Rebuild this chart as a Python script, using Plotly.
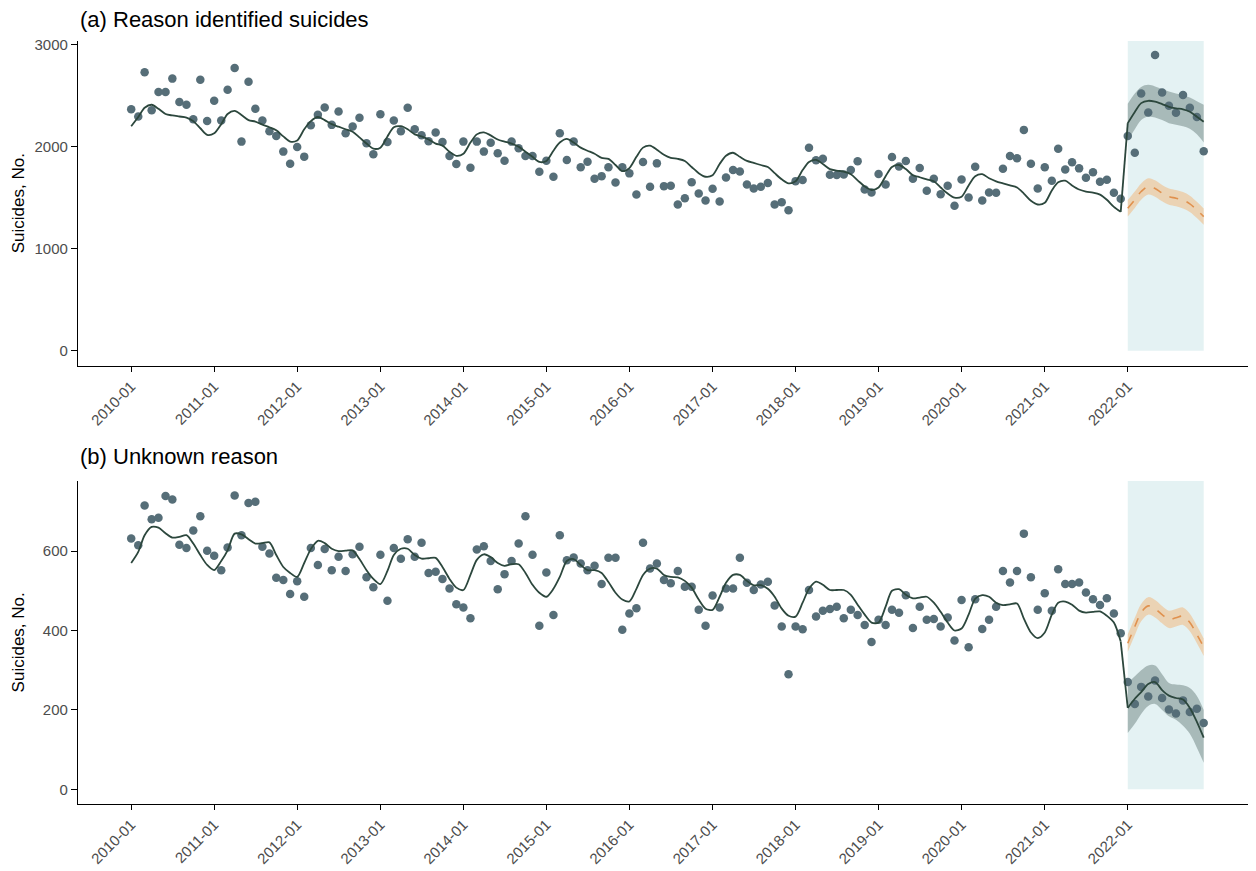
import pandas as pd
import plotly.graph_objects as go

# ---------------- data ----------------
months = [d.strftime("%Y-%m-%d") for d in pd.date_range("2010-01-01", "2022-12-01", freq="MS")]
post_months = months[-12:]

tick_vals = [f"{y}-01-01" for y in range(2010, 2023)]
tick_text = [f"{y}-01" for y in range(2010, 2023)]

# Panel (a) Reason identified suicides: observed monthly counts
a_obs = [2367, 2295, 2728, 2357, 2534, 2534, 2666, 2436, 2410, 2269, 2656, 2252,
         2449, 2256, 2557, 2770, 2049, 2636, 2370, 2256, 2151, 2105, 1951, 1833,
         1997, 1902, 2210, 2311, 2384, 2213, 2344, 2131, 2197, 2282, 2033, 1925,
         2318, 2046, 2256, 2151, 2380, 2170, 2111, 2052, 2138, 2046, 1908, 1830,
         2049, 1793, 2049, 1951, 2039, 1934, 1862, 2049, 1984, 1908, 1908, 1754,
         1862, 1705, 2131, 1869, 2049, 1797, 1852, 1685, 1711, 1797, 1649, 1797,
         1738, 1531, 1849, 1607, 1836, 1613, 1616, 1433, 1495, 1652, 1541, 1472,
         1587, 1462, 1698, 1770, 1757, 1630, 1590, 1607, 1643, 1433, 1456, 1377,
         1662, 1672, 1990, 1866, 1882, 1725, 1721, 1728, 1770, 1856, 1580, 1551,
         1731, 1630, 1898, 1806, 1859, 1685, 1790, 1567, 1685, 1534, 1616, 1420,
         1679, 1502, 1803, 1472, 1551, 1548, 1784, 1908, 1885, 2164, 1833, 1590,
         1797, 1666, 1980, 1777, 1846, 1787, 1695, 1748, 1656, 1675, 1548, 1489,
         2105, 1940, 2521, 2334, 2898, 2531, 2400, 2331, 2505, 2380, 2289, 1954]

# Panel (a) fitted model
a_fit = [2200, 2290, 2380, 2410, 2370, 2320, 2305, 2295, 2285, 2250, 2180, 2115,
         2130, 2220, 2320, 2350, 2310, 2260, 2245, 2215, 2190, 2160, 2100, 2050,
         2060, 2170, 2250, 2290, 2260, 2220, 2195, 2170, 2145, 2090, 2030, 1980,
         1990, 2100, 2190, 2200, 2170, 2120, 2100, 2070, 2030, 2010, 1950, 1910,
         1930, 2040, 2120, 2140, 2110, 2070, 2050, 2030, 2000, 1950, 1900, 1850,
         1860, 1960, 2040, 2075, 2040, 1990, 1960, 1930, 1890, 1880, 1820, 1760,
         1790, 1900, 1990, 2010, 1970, 1920, 1890, 1880, 1860, 1800, 1740, 1705,
         1720, 1830, 1910, 1940, 1900, 1860, 1840, 1820, 1800, 1740, 1680, 1640,
         1660, 1770, 1850, 1870, 1830, 1780, 1765, 1755, 1730, 1670, 1610, 1575,
         1600, 1710, 1800, 1820, 1780, 1720, 1700, 1680, 1660, 1600, 1540, 1500,
         1510, 1620, 1710, 1730, 1690, 1660, 1640, 1620, 1600, 1540, 1470, 1433,
         1450, 1570, 1650, 1666, 1620, 1580, 1560, 1550, 1530, 1480, 1410, 1361,
         2230, 2340, 2426, 2449, 2440, 2417, 2390, 2375, 2365, 2342, 2293, 2244]
a_fit_hi = [2420, 2520, 2585, 2605, 2590, 2565, 2540, 2520, 2505, 2480, 2445, 2410]
a_fit_lo = [2060, 2170, 2260, 2295, 2285, 2260, 2230, 2215, 2200, 2175, 2120, 2040]

# Panel (a) counterfactual (2022)
a_cf = [1396, 1480, 1560, 1610, 1590, 1545, 1510, 1495, 1475, 1440, 1380, 1314]
a_cf_hi = [1476, 1560, 1640, 1690, 1670, 1625, 1590, 1575, 1555, 1520, 1460, 1394]
a_cf_lo = [1316, 1400, 1480, 1530, 1510, 1465, 1430, 1415, 1395, 1360, 1300, 1234]

# Panel (b) Unknown reason: observed monthly counts
b_obs = [632, 615, 715, 680, 684, 739, 730, 616, 608, 652, 688, 601,
         588, 552, 609, 740, 640, 721, 724, 611, 594, 533, 527, 492,
         524, 485, 608, 565, 605, 552, 586, 550, 592, 611, 534, 509,
         591, 475, 608, 581, 630, 586, 621, 545, 548, 530, 506, 466,
         458, 431, 604, 612, 575, 504, 542, 575, 619, 688, 591, 412,
         546, 439, 640, 577, 584, 569, 552, 563, 517, 583, 583, 402,
         443, 456, 621, 556, 569, 527, 519, 550, 510, 510, 452, 412,
         488, 458, 506, 506, 583, 520, 502, 516, 523, 463, 410, 290,
         410, 403, 502, 435, 450, 454, 460, 431, 452, 439, 414, 371,
         427, 414, 452, 445, 489, 406, 460, 427, 429, 410, 433, 375,
         477, 358, 479, 404, 427, 460, 550, 521, 550, 644, 534, 452,
         494, 450, 554, 517, 517, 521, 496, 479, 464, 481, 443, 393,
         270, 215, 258, 234, 274, 230, 201, 191, 224, 195, 203, 167]

# Panel (b) fitted model
b_fit = [570, 598, 640, 661, 659, 645, 634, 636, 640, 619, 590, 565,
         552, 575, 602, 644, 642, 630, 619, 620, 622, 590, 560, 545,
         535, 570, 605, 626, 620, 606, 600, 601, 602, 580, 552, 530,
         517, 550, 590, 606, 606, 590, 581, 582, 583, 560, 530, 508,
         502, 540, 578, 592, 585, 570, 563, 567, 567, 545, 515, 495,
         485, 505, 535, 575, 580, 565, 552, 552, 545, 522, 495, 478,
         473, 505, 540, 556, 556, 540, 535, 534, 525, 508, 478, 455,
         452, 485, 520, 540, 540, 525, 514, 514, 505, 485, 455, 437,
         435, 470, 505, 523, 515, 502, 502, 502, 490, 465, 440, 420,
         420, 460, 500, 504, 490, 481, 483, 485, 470, 447, 420, 400,
         405, 440, 480, 489, 485, 470, 464, 466, 468, 430, 395, 381,
         395, 440, 470, 473, 465, 450, 445, 447, 448, 437, 420, 372,
         205, 228, 245, 265, 270, 250, 236, 230, 226, 205, 170, 130]
b_fit_hi = [268, 285, 300, 312, 312, 290, 268, 264, 262, 255, 235, 200]
b_fit_lo = [142, 165, 190, 210, 215, 200, 184, 175, 160, 140, 105, 67]

# Panel (b) counterfactual (2022)
b_cf = [368, 410, 445, 462, 455, 440, 428, 432, 436, 420, 390, 358]
b_cf_hi = [390, 432, 467, 484, 477, 462, 450, 454, 458, 442, 412, 380]
b_cf_lo = [346, 388, 423, 440, 433, 418, 406, 410, 414, 398, 368, 336]

# ---------------- styling ----------------
PT_COLOR = "#566e78"
FIT_COLOR = "#2c473d"
FIT_BAND = "rgba(70,95,92,0.38)"
CF_COLOR = "#e0914e"
CF_BAND = "rgba(245,172,105,0.45)"
SHADE = "#e4f2f3"
FONT = "Liberation Sans, Arial, sans-serif"

# page is offset by the 8px body margin
OFF = 8
W, H = 1248, 863
L = 78 - OFF
T = 41 - OFF
B = H - (804.3 - OFF)
R = 0
plot_h = H - T - B
a_dom = [(H - B - (365.7 - OFF)) / plot_h, 1.0]
b_dom = [0.0, (H - B - (481 - OFF)) / plot_h]

a_range = [-144.5, 3034.5]
b_range = [-37, 777]
x_range = ["2009-05-12", "2023-07-19"]

N_PRE = len(months) - len(post_months)

fig = go.Figure()


def add_panel(xa, ya, obs, fit, fit_hi, fit_lo, cf, cf_hi, cf_lo):
    fig.add_trace(go.Scatter(x=post_months, y=fit_hi, mode="lines", line=dict(width=0),
                             line_shape="spline", hoverinfo="skip", showlegend=False,
                             xaxis=xa, yaxis=ya))
    fig.add_trace(go.Scatter(x=post_months, y=fit_lo, mode="lines", line=dict(width=0),
                             line_shape="spline", fill="tonexty", fillcolor=FIT_BAND,
                             hoverinfo="skip", showlegend=False, xaxis=xa, yaxis=ya))
    fig.add_trace(go.Scatter(x=post_months, y=cf_hi, mode="lines", line=dict(width=0),
                             line_shape="spline", hoverinfo="skip", showlegend=False,
                             xaxis=xa, yaxis=ya))
    fig.add_trace(go.Scatter(x=post_months, y=cf_lo, mode="lines", line=dict(width=0),
                             line_shape="spline", fill="tonexty", fillcolor=CF_BAND,
                             hoverinfo="skip", showlegend=False, xaxis=xa, yaxis=ya))
    fig.add_trace(go.Scatter(x=months, y=obs, mode="markers",
                             marker=dict(size=8.5, color=PT_COLOR),
                             showlegend=False, xaxis=xa, yaxis=ya))
    # fitted line: smooth within each period, straight step at the interruption
    fig.add_trace(go.Scatter(x=months[:N_PRE], y=fit[:N_PRE], mode="lines",
                             line=dict(color=FIT_COLOR, width=1.8, shape="spline", smoothing=0.8),
                             showlegend=False, xaxis=xa, yaxis=ya))
    fig.add_trace(go.Scatter(x=months[N_PRE - 1:N_PRE + 1], y=fit[N_PRE - 1:N_PRE + 1],
                             mode="lines", line=dict(color=FIT_COLOR, width=1.8),
                             showlegend=False, xaxis=xa, yaxis=ya))
    fig.add_trace(go.Scatter(x=months[N_PRE:], y=fit[N_PRE:], mode="lines",
                             line=dict(color=FIT_COLOR, width=1.8, shape="spline", smoothing=0.8),
                             showlegend=False, xaxis=xa, yaxis=ya))
    fig.add_trace(go.Scatter(x=post_months, y=cf, mode="lines",
                             line=dict(color=CF_COLOR, width=1.6, dash="dash", shape="spline"),
                             showlegend=False, xaxis=xa, yaxis=ya))


add_panel("x", "y", a_obs, a_fit, a_fit_hi, a_fit_lo, a_cf, a_cf_hi, a_cf_lo)
add_panel("x2", "y2", b_obs, b_fit, b_fit_hi, b_fit_lo, b_cf, b_cf_hi, b_cf_lo)

fig.add_shape(type="rect", xref="x", yref="y", x0=post_months[0], x1=post_months[-1],
              y0=0, y1=a_range[1], fillcolor=SHADE, line=dict(width=0), layer="below")
fig.add_shape(type="rect", xref="x2", yref="y2", x0=post_months[0], x1=post_months[-1],
              y0=0, y1=b_range[1], fillcolor=SHADE, line=dict(width=0), layer="below")

xaxis_common = dict(type="date", range=x_range, tickvals=tick_vals, ticktext=tick_text,
                    tickangle=-45, showline=True, linecolor="black", linewidth=1.3,
                    ticks="outside", ticklen=5, tickwidth=1.2, tickcolor="black",
                    showgrid=False, zeroline=False,
                    tickfont=dict(family=FONT, size=15, color="#4d4d4d"))
yaxis_common = dict(showline=True, linecolor="black", linewidth=1.3,
                    ticks="outside", ticklen=6, tickwidth=1.2, tickcolor="black",
                    showgrid=False, zeroline=False,
                    tickfont=dict(family=FONT, size=15, color="#4d4d4d"))

fig.update_layout(
    width=W, height=H,
    margin=dict(l=L, r=R, t=T, b=B, autoexpand=False),
    paper_bgcolor="white", plot_bgcolor="white",
    font=dict(family=FONT),
    xaxis=dict(domain=[0, 1], anchor="y", **xaxis_common),
    yaxis=dict(domain=a_dom, anchor="x", range=a_range,
               tickvals=[0, 1000, 2000, 3000], **yaxis_common),
    xaxis2=dict(domain=[0, 1], anchor="y2", **xaxis_common),
    yaxis2=dict(domain=b_dom, anchor="x2", range=b_range,
                tickvals=[0, 200, 400, 600], **yaxis_common),
    annotations=[
        dict(text="(a) Reason identified suicides", xref="paper", yref="paper",
             x=0, y=1 + (T - (19.5 - OFF)) / plot_h, xanchor="left", yanchor="middle",
             showarrow=False, font=dict(family=FONT, size=22, color="black")),
        dict(text="(b) Unknown reason", xref="paper", yref="paper",
             x=0, y=(H - B - (456.5 - OFF)) / plot_h, xanchor="left", yanchor="middle",
             showarrow=False, font=dict(family=FONT, size=22, color="black")),
        dict(text="Suicides, No.", xref="paper", yref="paper", textangle=-90,
             x=((18 - OFF) - L) / (W - L - R), y=sum(a_dom) / 2, xanchor="center",
             yanchor="middle", showarrow=False, font=dict(family=FONT, size=17, color="black")),
        dict(text="Suicides, No.", xref="paper", yref="paper", textangle=-90,
             x=((18 - OFF) - L) / (W - L - R), y=sum(b_dom) / 2, xanchor="center",
             yanchor="middle", showarrow=False, font=dict(family=FONT, size=17, color="black")),
    ],
)

fig.write_html("out.html")
